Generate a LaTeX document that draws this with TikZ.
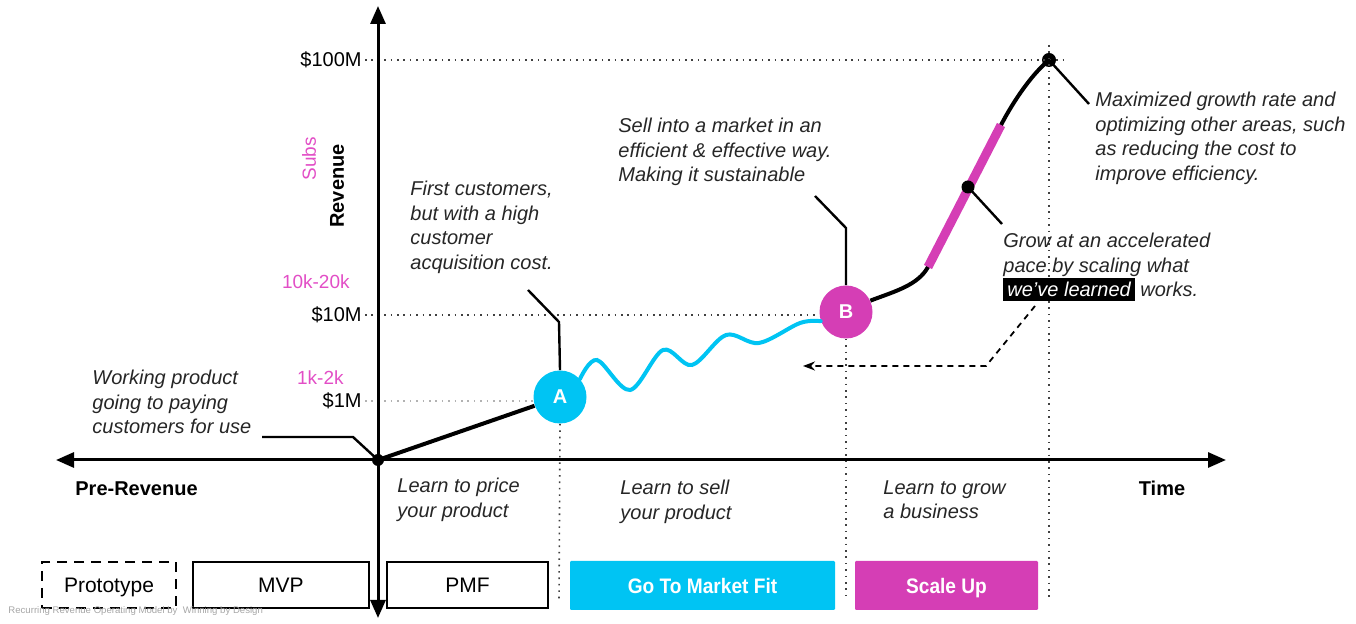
\documentclass[tikz,border=0pt]{standalone}
\usepackage{fontspec}
\setmainfont{Liberation Sans}
\newfontfamily\condfont[FakeStretch=0.91]{Liberation Sans}
\usetikzlibrary{arrows.meta}
\definecolor{cyanA}{RGB}{0,196,243}
\definecolor{magB}{RGB}{213,62,181}
\definecolor{pinkT}{RGB}{226,78,198}
\newcommand{\hlbox}[1]{{\setlength{\fboxsep}{2pt}\smash{\colorbox{black}{\color{white}#1}}}}
\begin{document}
\begin{tikzpicture}[x=0.5pt,y=-0.5pt,
  axis/.style={line width=1.5pt, {Triangle[length=9pt,width=7.5pt]}-{Triangle[length=9pt,width=7.5pt]}},
  leader/.style={line width=1.2pt, black},
  dotline/.style={line width=0.8pt, dash pattern=on 0.8pt off 2.4pt, black!75},
  lightdot/.style={line width=0.8pt, dash pattern=on 0.8pt off 2.4pt, black!30},
  dot/.style={circle, fill=black, inner sep=0pt, minimum size=6pt},
  stage/.style={circle, inner sep=0pt, minimum size=26.5pt, text=white, font=\bfseries\fontsize{10}{12}\selectfont},
  note/.style={anchor=north west, align=left, inner sep=0pt, text=black!85, font=\itshape\fontsize{10}{12.25}\selectfont},
  tick/.style={anchor=base east, inner sep=0pt, font=\fontsize{10}{12}\selectfont},
  subt/.style={anchor=base east, inner sep=0pt, text=pinkT, font=\fontsize{9.5}{12}\selectfont},
  bold/.style={inner sep=0pt, font=\bfseries\fontsize{10}{12}\selectfont},
  box/.style={draw, line width=1.3pt, minimum height=23pt, inner sep=0pt, text height=7.4pt, text depth=0pt, font=\fontsize{10.5}{12}\selectfont},
  fillbox/.style={minimum height=24.5pt, inner sep=0pt, rounded corners=0.6pt, text=white, text height=7.6pt, text depth=0pt, font=\condfont\bfseries\fontsize{10.5}{12}\selectfont}
]
\useasboundingbox (0,0) rectangle (1356,624);

% axes
\coordinate (yb) at (378,618);
\coordinate (yt) at (378,6);
\coordinate (xl) at (56,460);
\coordinate (xr) at (1226,460);
\node[dot] (O) at (378,460) {};
\node[stage, fill=cyanA] (A) at (560,397) {A};
\node[stage, fill=magB] (B) at (846,312) {B};
\node[dot, minimum size=7pt] (P) at (1049,60) {};

% dotted guide lines
\coordinate (h100) at (365,60);
\coordinate (h100e) at (1068,60);
\coordinate (h10) at (365,315);
\coordinate (h1) at (365,401);
\coordinate (vA) at (559,600);
\coordinate (vB) at (846,600);
\coordinate (vPt) at (1049,45);
\coordinate (vPb) at (1049,600);
\draw[dotline] (h100) -- (h100e);
\draw[dotline] (h10) -- (h10 -| B.west);
\draw[lightdot] (h1) -- (h1 -| A.west);
\draw[dotline] (A.south) -- (vA);
\draw[dotline] (B.south) -- (vB);
\draw[dotline] (vPt) -- (vPb);

\draw[axis] (yb) -- (yt);
\draw[axis] (xl) -- (xr);

% tick labels
\node[tick] (t100) at (362,67) {\$100M};
\node[tick] (t10) at (362,322) {\$10M};
\node[tick] (t1) at (362,408) {\$1M};
\node[subt] (s10) at (350,289) {10k-20k};
\node[subt] (s1) at (344,385) {1k-2k};
\node[rotate=90, inner sep=0pt, text=pinkT, font=\fontsize{9.5}{12}\selectfont] (subs) at (309,159) {Subs};
\node[rotate=90, bold] (rev) at (337,186) {Revenue};

% curves
\draw[line width=2pt] (O.center) -- (A);
\draw[cyanA, line width=2pt, line cap=round] plot[smooth, tension=0.55] coordinates {(A.42) (597,360) (630,390) (663,350) (692,365) (726,335) (759,343) (800,323) (B.200)};
\coordinate (m1) at (928,267);
\coordinate (m2) at (1001,125);
\draw[line width=2pt] (B.25) .. controls (896,291) and (918,285) .. (m1) -- (m2) .. controls (1013,102) and (1031,75) .. (P.center);
\draw[magB, line width=4.5pt] (m1) -- (m2);
\node[dot, minimum size=6.5pt] (M) at (968,187) {};

% annotations
\node[note] (nw) at (92,370) {Working product\\going to paying\\customers for use};
\coordinate (w1) at (262,437);
\coordinate (w2) at (353,437);
\draw[leader] (w1) -- (w2) -- (O.center);

\node[note] (na) at (410,181) {First customers,\\but with a high\\customer\\acquisition cost.};
\coordinate (a1) at (528,290);
\coordinate (a2) at (559,322);
\draw[leader] (a1) -- (a2) -- (A.north);

\node[note] (nb) at (618,118) {Sell into a market in an\\efficient \& effective way.\\Making it sustainable};
\coordinate (b1) at (815,196);
\coordinate (b2) at (846,228);
\draw[leader] (b1) -- (b2) -- (B.north);

\node[note] (np) at (1095,92) {Maximized growth rate and\\optimizing other areas, such\\as reducing the cost to\\improve efficiency.};
\coordinate (p1) at (1089,104);
\draw[leader] (P.center) -- (p1);

\node[note] (nm) at (1003,233) {Grow at an accelerated\\pace by scaling what\\\hlbox{we’ve learned} works.};
\coordinate (mm1) at (1002,224);
\draw[leader] (M.center) -- (mm1);

% dashed arrow
\coordinate (d1) at (1035,306);
\coordinate (d2) at (986,366);
\coordinate (d3) at (803,366);
\draw[line width=0.9pt, dash pattern=on 3pt off 2.5pt, -{Stealth[length=6pt,width=4.5pt]}] (d1) -- (d2) -- (d3);

% axis captions
\node[bold, anchor=base west] (pre) at (75,496) {Pre-Revenue};
\node[bold, anchor=base] (time) at (1162,496) {Time};
\node[note] (l1) at (397,478) {Learn to price\\your product};
\node[note] (l2) at (620,480) {Learn to sell\\your product};
\node[note] (l3) at (883,480) {Learn to grow\\a business};

% stage boxes
\node[box, dash pattern=on 5pt off 3.5pt, minimum width=67pt] (proto) at (109,585) {Prototype};
\node[box, minimum width=88pt] (mvp) at (281,585) {MVP};
\node[box, minimum width=80.5pt] (pmf) at (467.5,585) {PMF};
\node[fillbox, fill=cyanA, minimum width=132.5pt] (gtm) at (702.5,585.5) {Go To Market Fit};
\node[fillbox, fill=magB, minimum width=91.5pt] (scale) at (946.5,585.5) {Scale Up};

\node[anchor=base west, inner sep=0pt, text=black!35, font=\fontsize{4.8}{5}\selectfont] (wm) at (8,614) {Recurring Revenue Operating Model by\ \ Winning by Design};
\end{tikzpicture}
\end{document}
